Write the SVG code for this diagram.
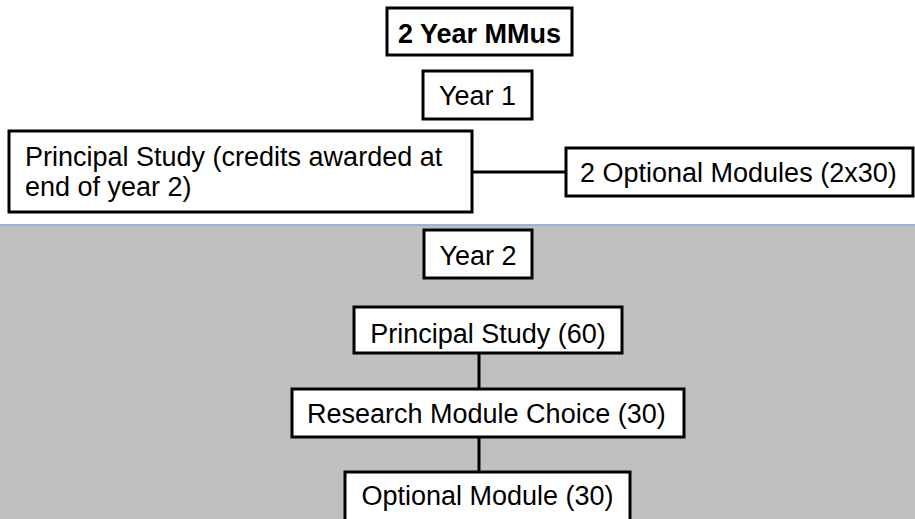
<svg xmlns="http://www.w3.org/2000/svg" width="915" height="519" viewBox="0 0 915 519">
<style>
.box{fill:#fff;stroke:#000;stroke-width:3}
.t{font-family:"Liberation Sans",Arial,sans-serif;font-size:27px;fill:#000}
.b{font-weight:bold}
.c{stroke:#000;stroke-width:3;fill:none}
</style>
<rect x="0" y="0" width="915" height="519" fill="#fff"/>
<rect x="0" y="225" width="915" height="294" fill="#c0c0c0"/>
<line x1="0" y1="225" x2="915" y2="225" stroke="#94b4dc" stroke-width="2"/>
<g id="connectors">
<line class="c" x1="472" y1="172" x2="566" y2="172"/>
<line class="c" x1="479" y1="353" x2="479" y2="389"/>
<line class="c" x1="479" y1="437" x2="479" y2="472"/>
</g>
<g id="title">
<rect class="box" x="387" y="8" width="185" height="47"/>
<text class="t b" x="479.5" y="43" text-anchor="middle">2 Year MMus</text>
</g>
<g id="year1">
<rect class="box" x="423" y="71" width="109" height="48"/>
<text class="t" x="477.5" y="105" text-anchor="middle">Year 1</text>
</g>
<g id="principal1">
<rect class="box" x="9" y="131" width="463" height="81"/>
<text class="t" x="25" y="166">Principal Study (credits awarded at</text>
<text class="t" x="25" y="196">end of year 2)</text>
</g>
<g id="optional2">
<rect class="box" x="566" y="148" width="347" height="48"/>
<text class="t" x="580" y="182">2 Optional Modules (2x30)</text>
</g>
<g id="year2">
<rect class="box" x="424" y="230" width="108" height="48"/>
<text class="t" x="478" y="265" text-anchor="middle">Year 2</text>
</g>
<g id="principal60">
<rect class="box" x="354" y="307" width="268" height="46"/>
<text class="t" x="488" y="343" text-anchor="middle">Principal Study (60)</text>
</g>
<g id="research">
<rect class="box" x="292" y="389" width="392" height="48"/>
<text class="t" x="307" y="423">Research Module Choice (30)</text>
</g>
<g id="optional1">
<rect class="box" x="345" y="472" width="285" height="50"/>
<text class="t" x="487.5" y="505" text-anchor="middle">Optional Module (30)</text>
</g>
</svg>
